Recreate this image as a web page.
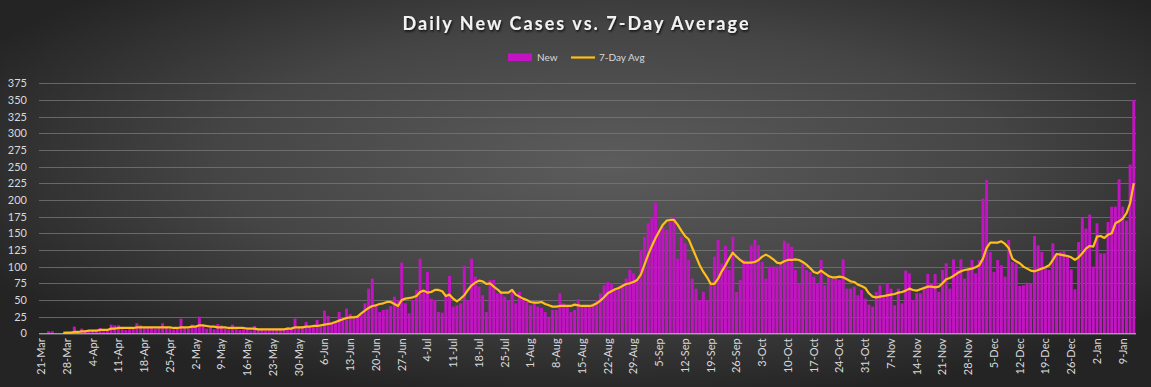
<!DOCTYPE html>
<html lang="en">
  <head>
    <meta charset="UTF-8" />
    <title>Daily New Cases vs. 7-Day Average</title>
    <script src="https://cdn.jsdelivr.net/npm/d3@7"></script>
    <style>
      body { margin: 0; background: #2a2a2a; }
      svg { display: block; font-family: Lato, "Open Sans", sans-serif; }
    </style>
  </head>
  <body>
    <div id="chart"></div>
    <script>
      // first day of the series, one value per day after it
      let startDate = new Date(2020, 2, 21);

      let newCases = [
        0, 0, 3, 3, 0, 0, 0, 0, 1, 10,
        3, 7, 5, 2, 3, 4, 8, 3, 4, 13,
        12, 12, 6, 5, 6, 7, 15, 12, 8, 9,
        8, 7, 9, 15, 10, 7, 6, 8, 22, 8,
        7, 13, 9, 25, 11, 7, 8, 6, 14, 12,
        7, 6, 13, 8, 5, 6, 5, 4, 11, 6,
        5, 4, 5, 6, 5, 7, 6, 9, 8, 22,
        8, 10, 17, 9, 12, 20, 10, 34, 26, 14,
        16, 32, 20, 37, 29, 22, 25, 30, 45, 67,
        82, 44, 32, 35, 36, 41, 55, 50, 106, 45,
        30, 50, 65, 112, 65, 92, 52, 50, 32, 31,
        57, 86, 40, 42, 45, 101, 50, 112, 85, 70,
        57, 32, 80, 80, 60, 62, 55, 50, 62, 45,
        62, 50, 47, 42, 45, 40, 38, 32, 25, 35,
        35, 60, 45, 40, 32, 35, 51, 42, 40, 42,
        45, 50, 60, 72, 77, 75, 65, 70, 75, 82,
        95, 90, 80, 125, 145, 165, 174, 196, 155, 160,
        155, 167, 175, 112, 145, 135, 110, 82, 67, 50,
        62, 50, 77, 115, 140, 105, 131, 95, 145, 62,
        80, 110, 107, 132, 140, 132, 107, 82, 100, 100,
        100, 105, 139, 135, 130, 95, 75, 106, 95, 92,
        85, 75, 110, 72, 87, 82, 82, 80, 111, 67,
        67, 70, 57, 65, 52, 43, 40, 62, 72, 57,
        75, 67, 42, 67, 45, 94, 90, 50, 60, 60,
        70, 89, 75, 89, 62, 95, 105, 67, 111, 95,
        111, 82, 95, 110, 90, 110, 202, 230, 122, 92,
        110, 102, 85, 140, 107, 105, 71, 72, 76, 75,
        146, 132, 122, 97, 95, 135, 117, 122, 123, 115,
        96, 66, 137, 173, 157, 178, 100, 165, 120, 120,
        167, 190, 190, 231, 190, 169, 253, 350
      ];

      let avg7 = [
        null, null, null, null, null, null, 0.5, 1, 1, 2,
        2, 3, 3, 4, 4, 4, 5, 5, 5, 7,
        7, 8, 8, 8, 8, 8, 9, 9, 9, 9,
        9, 9, 9, 9, 9, 9, 8, 8, 9, 9,
        9, 10, 10, 12, 12, 11, 10, 10, 9, 9,
        9, 8, 8, 8, 8, 8, 7, 7, 7, 6,
        6, 6, 6, 6, 6, 6, 6, 7, 7, 9,
        9, 9, 10, 10, 11, 11, 12, 13, 14, 15,
        17, 19, 21, 23, 24, 24, 25, 30, 34, 38,
        41, 42, 44, 45, 47, 47, 44, 41, 50, 52,
        53, 54, 56, 62, 64, 61, 62, 65, 65, 63,
        56, 58, 52, 48, 52, 57, 65, 72, 76, 79,
        78, 74, 75, 70, 66, 61, 61, 61, 65, 58,
        55, 52, 50, 47, 46, 46, 47, 44, 42, 40,
        40, 41, 41, 41, 41, 43, 42, 41, 41, 41,
        42, 45, 49, 54, 60, 63, 66, 68, 71, 74,
        75, 77, 80, 88, 103, 118, 131, 143, 153, 163,
        169, 170, 170, 163, 154, 146, 141, 128, 115, 102,
        92, 84, 74, 74, 82, 93, 102, 112, 121, 115,
        110, 106, 106, 106, 107, 110, 115, 118, 115, 111,
        106, 105, 108, 110, 110, 111, 110, 107, 103, 98,
        92, 90, 94, 90, 86, 84, 84, 85, 84, 81,
        78, 77, 73, 71, 68, 60, 55, 54, 55, 56,
        57, 58, 59, 61, 62, 64, 67, 65, 64, 66,
        68, 70, 70, 69, 70, 75, 81, 83, 86, 90,
        93, 95, 96, 97, 99, 102, 112, 128, 136, 136,
        136, 138, 134, 128, 112, 108, 105, 100, 97, 94,
        93, 95, 97, 99, 102, 110, 119, 118, 117, 116,
        114, 110, 114, 120, 127, 131, 130, 145, 146, 143,
        148, 150, 165, 168, 172, 180, 195, 225
      ];

      let tickLabels = [
        "21-Mar", "28-Mar", "4-Apr", "11-Apr", "18-Apr", "25-Apr", "2-May",
        "9-May", "16-May", "23-May", "30-May", "6-Jun", "13-Jun", "20-Jun",
        "27-Jun", "4-Jul", "11-Jul", "18-Jul", "25-Jul", "1-Aug", "8-Aug",
        "15-Aug", "22-Aug", "29-Aug", "5-Sep", "12-Sep", "19-Sep", "26-Sep",
        "3-Oct", "10-Oct", "17-Oct", "24-Oct", "31-Oct", "7-Nov", "14-Nov",
        "21-Nov", "28-Nov", "5-Dec", "12-Dec", "19-Dec", "26-Dec", "2-Jan",
        "9-Jan"
      ];

      let yTicks = [0, 25, 50, 75, 100, 125, 150, 175, 200, 225, 250, 275, 300, 325, 350, 375];

      let W = 1151;
      let H = 387;
      let margin = { top: 83.3, right: 15, bottom: 53.7, left: 39 };

      let fmt = d3.timeFormat("%-d-%b");
      let days = newCases.map(function (d, i) {
        return fmt(d3.timeDay.offset(startDate, i));
      });

      let svg = d3
        .select("#chart")
        .append("svg")
        .attr("width", W)
        .attr("height", H);

      let defs = svg.append("defs");
      let bg = defs
        .append("radialGradient")
        .attr("id", "bg")
        .attr("cx", 0.53)
        .attr("cy", 0.42)
        .attr("r", 0.62);
      bg.append("stop").attr("offset", "0%").attr("stop-color", "#5c5c5c");
      bg.append("stop").attr("offset", "55%").attr("stop-color", "#454545");
      bg.append("stop").attr("offset", "100%").attr("stop-color", "#242424");

      let shadow = defs.append("filter").attr("id", "shadow");
      shadow
        .append("feDropShadow")
        .attr("dx", 1)
        .attr("dy", 1.5)
        .attr("stdDeviation", 1)
        .attr("flood-color", "#000")
        .attr("flood-opacity", 0.8);

      svg
        .append("rect")
        .attr("width", W)
        .attr("height", H)
        .attr("fill", "url(#bg)");

      let x = d3
        .scaleBand()
        .domain(days)
        .range([margin.left, W - margin.right])
        .padding(0.2);

      let y = d3
        .scaleLinear()
        .domain([0, 375])
        .range([H - margin.bottom, margin.top]);

      // gridlines
      svg
        .append("g")
        .selectAll("line")
        .data(yTicks.slice(1))
        .enter()
        .append("line")
        .attr("x1", margin.left)
        .attr("x2", W - margin.right)
        .attr("y1", function (d) { return Math.round(y(d)) + 0.5; })
        .attr("y2", function (d) { return Math.round(y(d)) + 0.5; })
        .attr("stroke", "#7a7a7a")
        .attr("stroke-opacity", 0.75);

      // y axis labels
      let yAxis = d3
        .axisLeft(y)
        .tickValues(yTicks)
        .tickSize(0)
        .tickPadding(0);
      let yg = svg
        .append("g")
        .attr("transform", "translate(" + (margin.left - 12) + ",0)")
        .call(yAxis);
      yg.select(".domain").remove();
      yg.selectAll("text")
        .attr("fill", "#d9d9d9")
        .attr("font-size", "11px")
        .attr("font-family", "Lato, sans-serif");

      // bars
      svg
        .append("g")
        .selectAll("rect")
        .data(newCases)
        .enter()
        .append("rect")
        .attr("x", function (d, i) { return x(days[i]); })
        .attr("width", x.bandwidth())
        .attr("y", function (d) { return y(d); })
        .attr("height", function (d) { return y(0) - y(d); })
        .attr("fill", "#c214c2");

      // baseline
      svg
        .append("line")
        .attr("x1", margin.left)
        .attr("x2", W - margin.right)
        .attr("y1", y(0) + 0.5)
        .attr("y2", y(0) + 0.5)
        .attr("stroke", "#cfcfcf");

      // 7-day average line
      let line = d3
        .line()
        .defined(function (d) { return d !== null; })
        .x(function (d, i) { return x(days[i]) + x.bandwidth() / 2; })
        .y(function (d) { return y(d); });

      svg
        .append("path")
        .datum(avg7)
        .attr("d", line)
        .attr("fill", "none")
        .attr("stroke", "#ffbe1a")
        .attr("stroke-width", 2.2)
        .attr("stroke-linejoin", "round");

      // x axis labels, one a week
      let xAxis = d3
        .axisBottom(x)
        .tickValues(tickLabels)
        .tickSize(0)
        .tickPadding(0);
      let xg = svg
        .append("g")
        .attr("transform", "translate(0," + (y(0) + 5) + ")")
        .call(xAxis);
      xg.select(".domain").remove();
      xg.selectAll("text")
        .attr("fill", "#d9d9d9")
        .attr("font-size", "11px")
        .attr("font-family", "Lato, sans-serif")
        .attr("text-anchor", "end")
        .attr("transform", "rotate(-90)")
        .attr("x", 0)
        .attr("y", 0)
        .attr("dy", "0.35em");

      // title
      svg
        .append("text")
        .attr("x", W / 2)
        .attr("y", 29.5)
        .attr("text-anchor", "middle")
        .attr("font-size", "18px")
        .attr("font-weight", "bold")
        .attr("fill", "#f2f2f2")
        .attr("filter", "url(#shadow)")
        .attr("textLength", 346)
        .attr("lengthAdjust", "spacing")
        .text("Daily New Cases vs. 7-Day Average");

      // legend
      let legend = svg.append("g").attr("font-size", "10px").attr("fill", "#d9d9d9");
      legend
        .append("rect")
        .attr("x", 508)
        .attr("y", 53.5)
        .attr("width", 24)
        .attr("height", 7.5)
        .attr("fill", "#c214c2");
      legend.append("text").attr("x", 537).attr("y", 61).text("New");
      legend
        .append("line")
        .attr("x1", 571)
        .attr("x2", 595)
        .attr("y1", 57.5)
        .attr("y2", 57.5)
        .attr("stroke", "#ffbe1a")
        .attr("stroke-width", 2.2);
      legend.append("text").attr("x", 599).attr("y", 61).text("7-Day Avg");
    </script>
  </body>
</html>
